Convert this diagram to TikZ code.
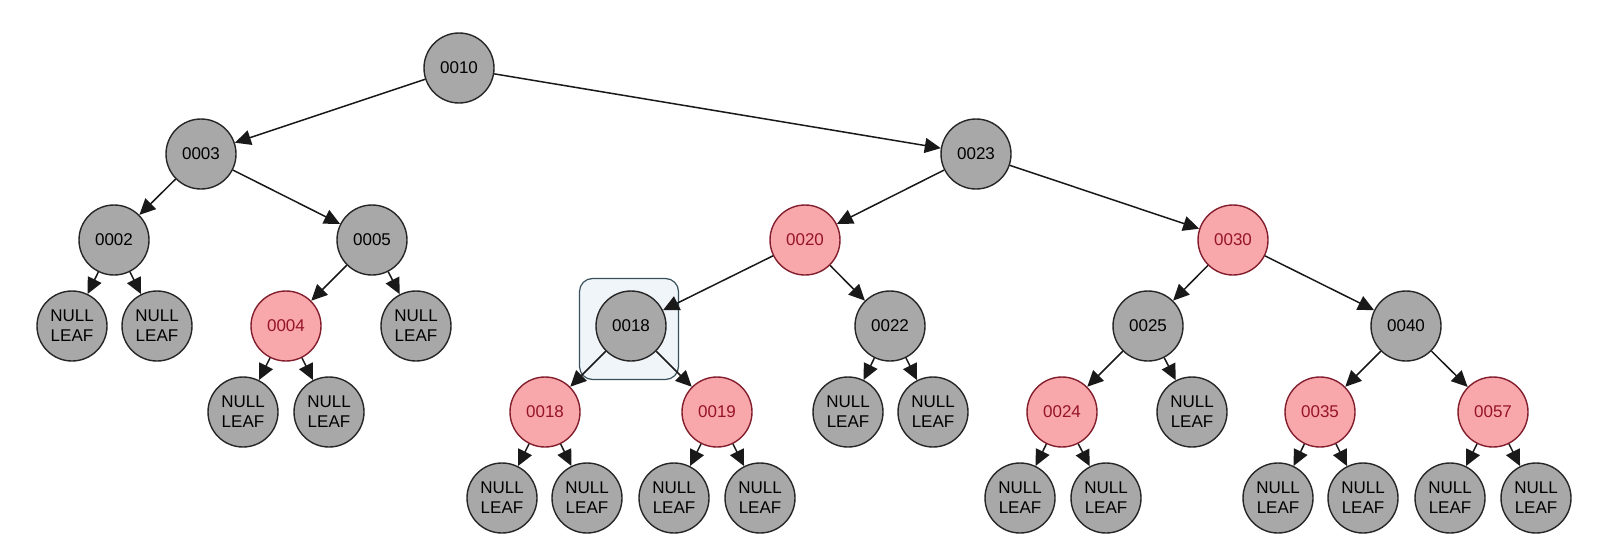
\documentclass[tikz,border=0pt]{standalone}
\usepackage{fontspec}
\setmainfont{Liberation Sans}
\usetikzlibrary{arrows.meta}
\definecolor{nodegray}{RGB}{168,168,168}
\definecolor{redfill}{RGB}{248,168,170}
\definecolor{reddraw}{RGB}{130,30,45}
\definecolor{redtext}{RGB}{150,20,40}
\definecolor{boxdraw}{RGB}{55,80,90}
\definecolor{boxfill}{RGB}{240,245,250}
\tikzset{
  bn/.style={circle, draw=black!85, fill=nodegray, line width=1.4pt, minimum size=70pt, inner sep=0pt,
    font=\fontsize{17}{20}\selectfont, align=center, text=black},
  rn/.style={bn, draw=reddraw, fill=redfill, text=redtext},
  lf/.style={bn},
  ar/.style={-{Triangle[length=16pt,width=15pt]}, line width=1.5pt, draw=black!90},
  hlbox/.style={draw=boxdraw, fill=boxfill, rounded corners=13pt, minimum width=99pt, minimum height=101pt, line width=1.2pt, inner sep=0pt}
}
\begin{document}
\begin{tikzpicture}[x=1pt,y=-1pt]
\useasboundingbox (0,0) rectangle (1605,554);
\node[hlbox] (hl) at (629,329) {};
% level 0-2
\node[bn] (n10) at (459,68) {0010};
\node[bn] (n3) at (201,154) {0003};
\node[bn] (n23) at (976,154) {0023};
\node[bn] (n2) at (114,240) {0002};
\node[bn] (n5) at (372,240) {0005};
\node[rn] (n20) at (805,240) {0020};
\node[rn] (n30) at (1233,240) {0030};
% level 3
\node[lf] (l1) at (72,326) {NULL\\LEAF};
\node[lf] (l2) at (157,326) {NULL\\LEAF};
\node[rn] (n4) at (286,326) {0004};
\node[lf] (l3) at (416,326) {NULL\\LEAF};
\node[bn] (n18) at (631,326) {0018};
\node[bn] (n22) at (890,326) {0022};
\node[bn] (n25) at (1148,326) {0025};
\node[bn] (n40) at (1406,326) {0040};
% level 4
\node[lf] (l4) at (243,412) {NULL\\LEAF};
\node[lf] (l5) at (329,412) {NULL\\LEAF};
\node[rn] (n18b) at (545,412) {0018};
\node[rn] (n19) at (717,412) {0019};
\node[lf] (l6) at (848,412) {NULL\\LEAF};
\node[lf] (l7) at (933,412) {NULL\\LEAF};
\node[rn] (n24) at (1062,412) {0024};
\node[lf] (l8) at (1192,412) {NULL\\LEAF};
\node[rn] (n35) at (1320,412) {0035};
\node[rn] (n57) at (1493,412) {0057};
% level 5
\node[lf] (l9) at (502,498) {NULL\\LEAF};
\node[lf] (l10) at (587,498) {NULL\\LEAF};
\node[lf] (l11) at (674,498) {NULL\\LEAF};
\node[lf] (l12) at (760,498) {NULL\\LEAF};
\node[lf] (l13) at (1020,498) {NULL\\LEAF};
\node[lf] (l14) at (1106,498) {NULL\\LEAF};
\node[lf] (l15) at (1278,498) {NULL\\LEAF};
\node[lf] (l16) at (1363,498) {NULL\\LEAF};
\node[lf] (l17) at (1450,498) {NULL\\LEAF};
\node[lf] (l18) at (1536,498) {NULL\\LEAF};
% edges
\draw[ar] (n10) -- (n3);
\draw[ar] (n10) -- (n23);
\draw[ar] (n3) -- (n2);
\draw[ar] (n3) -- (n5);
\draw[ar] (n2) -- (l1);
\draw[ar] (n2) -- (l2);
\draw[ar] (n5) -- (n4);
\draw[ar] (n5) -- (l3);
\draw[ar] (n4) -- (l4);
\draw[ar] (n4) -- (l5);
\draw[ar] (n23) -- (n20);
\draw[ar] (n23) -- (n30);
\draw[ar] (n20) -- (n18);
\draw[ar] (n20) -- (n22);
\draw[ar] (n18) -- (n18b);
\draw[ar] (n18) -- (n19);
\draw[ar] (n22) -- (l6);
\draw[ar] (n22) -- (l7);
\draw[ar] (n30) -- (n25);
\draw[ar] (n30) -- (n40);
\draw[ar] (n25) -- (n24);
\draw[ar] (n25) -- (l8);
\draw[ar] (n40) -- (n35);
\draw[ar] (n40) -- (n57);
\draw[ar] (n18b) -- (l9);
\draw[ar] (n18b) -- (l10);
\draw[ar] (n19) -- (l11);
\draw[ar] (n19) -- (l12);
\draw[ar] (n24) -- (l13);
\draw[ar] (n24) -- (l14);
\draw[ar] (n35) -- (l15);
\draw[ar] (n35) -- (l16);
\draw[ar] (n57) -- (l17);
\draw[ar] (n57) -- (l18);
\end{tikzpicture}
\end{document}
